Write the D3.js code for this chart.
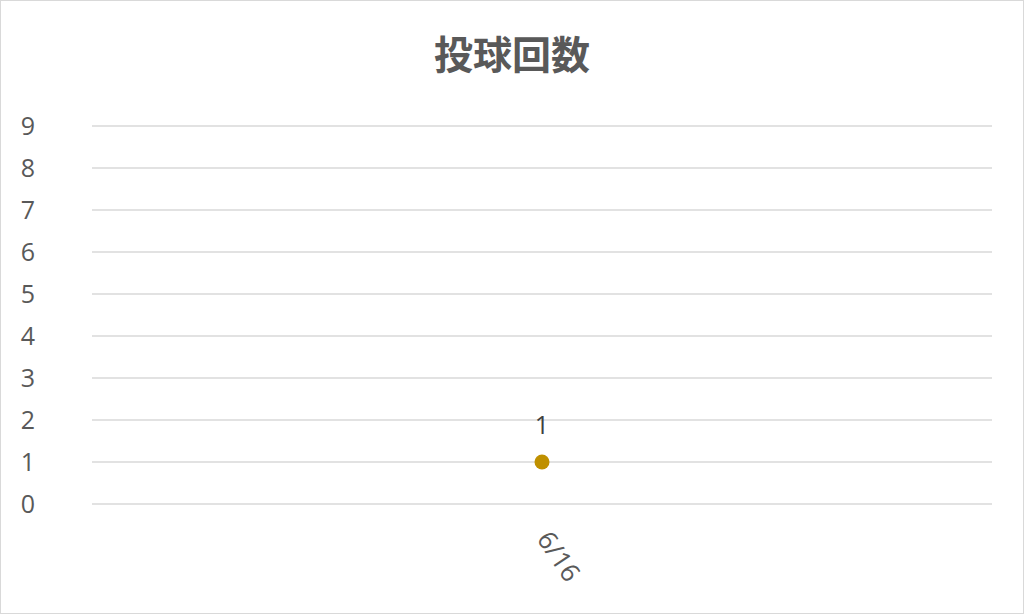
<!DOCTYPE html>
<html>
<head>
<meta charset="utf-8">
<script src="https://cdn.jsdelivr.net/npm/d3@7"></script>
<style>
  body { margin: 0; background: #fff; }
  text { font-family: "Open Sans", "Noto Sans CJK JP", sans-serif; }
</style>
</head>
<body>
<svg id="chart" width="1024" height="615"></svg>
<script>
// data
var title = "投球回数";
var categories = ["6/16"];
var values = [1];
var yTicks = [0, 1, 2, 3, 4, 5, 6, 7, 8, 9];

var svg = d3.select("#chart"),
  width = +svg.attr("width"),
  height = +svg.attr("height");

// chart frame
svg.append("rect")
  .attr("x", 0.5).attr("y", 0.5)
  .attr("width", width - 1).attr("height", height - 2)
  .attr("fill", "#fff")
  .attr("stroke", "#d9d9d9");

var x = d3.scaleBand().domain(categories).range([92, 992]);
var y = d3.scaleLinear().domain([0, 9]).range([504, 126]);

// gridlines
svg.append("g")
  .selectAll("line")
  .data(yTicks)
  .enter()
  .append("line")
  .attr("x1", 92).attr("x2", 992)
  .attr("y1", function (d) { return y(d) })
  .attr("y2", function (d) { return y(d) })
  .attr("stroke", "#d9d9d9")
  .attr("stroke-width", 1.5)

// y labels
svg.append("g")
  .selectAll("text")
  .data(yTicks)
  .enter()
  .append("text")
  .attr("x", 28)
  .attr("y", function (d) { return y(d) })
  .attr("dy", "0.36em")
  .attr("text-anchor", "middle")
  .style("font-size", "25px")
  .style("fill", "#595959")
  .text(function (d) { return d })

// x labels
svg.append("g")
  .selectAll("text")
  .data(categories)
  .enter()
  .append("text")
  .attr("transform", function (d) { return "translate(" + (x(d) + x.bandwidth() / 2 - 6) + ",539) rotate(56)" })
  .style("font-size", "26px")
  .style("fill", "#595959")
  .text(function (d) { return d })

// points
svg.append("g")
  .selectAll("circle")
  .data(values)
  .enter()
  .append("circle")
  .attr("cx", function (d, i) { return x(categories[i]) + x.bandwidth() / 2 })
  .attr("cy", function (d) { return y(d) })
  .attr("r", 7.5)
  .attr("fill", "#bf9000")

// data labels
svg.append("g")
  .selectAll("text")
  .data(values)
  .enter()
  .append("text")
  .attr("x", function (d, i) { return x(categories[i]) + x.bandwidth() / 2 })
  .attr("y", function (d) { return y(d) - 37 })
  .attr("dy", "0.36em")
  .attr("text-anchor", "middle")
  .style("font-size", "25px")
  .style("fill", "#404040")
  .text(function (d) { return d })

// title
svg.append("text")
  .attr("x", width / 2)
  .attr("y", 55)
  .attr("dy", "0.35em")
  .attr("text-anchor", "middle")
  .style("font-family", "'Noto Sans CJK JP', sans-serif")
  .style("font-size", "39px")
  .style("font-weight", "bold")
  .style("fill", "#595959")
  .text(title)
</script>
</body>
</html>
